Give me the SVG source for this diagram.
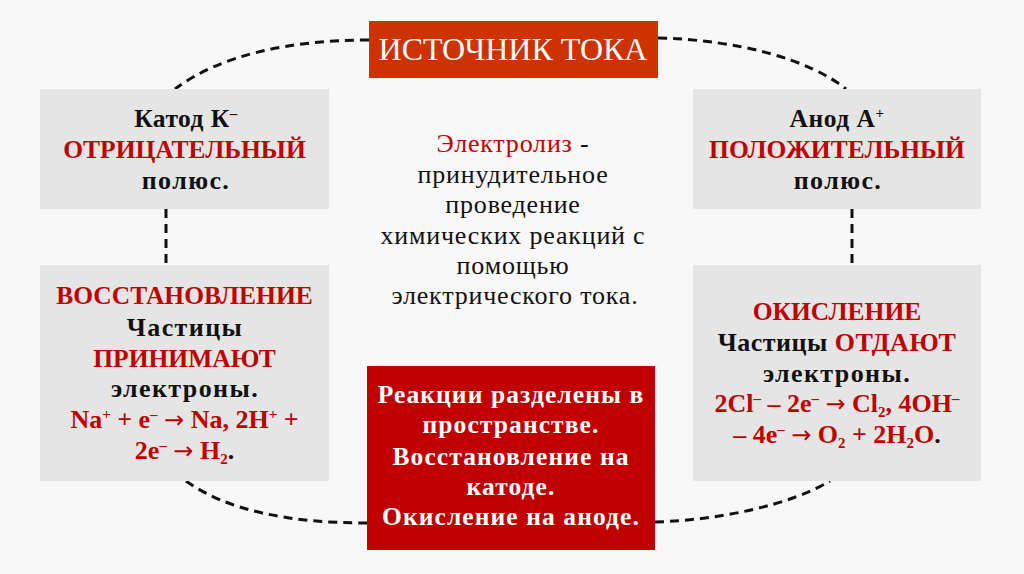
<svg xmlns="http://www.w3.org/2000/svg" width="1024" height="574" viewBox="0 0 1024 574">
  <style>
    .t { font-family: "Liberation Serif", "Times New Roman", serif; text-anchor: middle; }
    .b { font-weight: bold; font-size: 25.5px; }
    .lc { font-size: 26px; letter-spacing: 1.4px; }
    .f { font-size: 26px; }
    .r { fill: #c00000; }
    .k { fill: #111111; }
    .w { fill: #ffffff; }
    .reg { font-size: 26px; letter-spacing: 0.8px; }
    .gray { fill: #e5e5e5; }
    .dash { fill: none; stroke: #111111; stroke-width: 3; stroke-dasharray: 9 6; }
    .sup { font-size: 15px; }
    .arr { font-family: "DejaVu Sans", sans-serif; font-weight: normal; font-size: 24px; }
  </style>
  <rect x="0" y="0" width="1024" height="574" fill="#f8f8f8"/>

  <g id="connectors">
    <path class="dash" d="M369,40 C290,40 220,55 175,89"/>
    <path class="dash" d="M658,38 C740,40 810,60 846,89"/>
    <path class="dash" d="M166,209 L166,265"/>
    <path class="dash" d="M852,209 L852,265"/>
    <path class="dash" d="M186,481 C228,511 290,523 367,523"/>
    <path class="dash" d="M655,522 C720,520 790,505 830,481"/>
  </g>

  <g id="source">
    <rect x="369" y="21" width="289" height="57" fill="#cc3300"/>
    <text class="t w" x="513" y="60" font-size="32">ИСТОЧНИК ТОКА</text>
  </g>

  <g id="cathode">
    <rect class="gray" x="40" y="89" width="289" height="120"/>
    <text class="t b k" x="186" y="127" letter-spacing="0.5">Катод К<tspan class="sup" dy="-9">–</tspan></text>
    <text class="t b r" x="184.5" y="158">ОТРИЦАТЕЛЬНЫЙ</text>
    <text class="t b lc k" x="186" y="189">полюс.</text>
  </g>

  <g id="anode">
    <rect class="gray" x="693" y="89" width="288" height="120"/>
    <text class="t b k" x="837" y="127" letter-spacing="0.5">Анод А<tspan class="sup" dy="-9">+</tspan></text>
    <text class="t b r" x="837" y="158" font-size="26">ПОЛОЖИТЕЛЬНЫЙ</text>
    <text class="t b lc k" x="838" y="189">полюс.</text>
  </g>

  <g id="definition">
    <text class="t reg" x="513" y="152"><tspan class="r">Электролиз</tspan><tspan class="k"> -</tspan></text>
    <text class="t reg k" x="513" y="183">принудительное</text>
    <text class="t reg k" x="513" y="213">проведение</text>
    <text class="t reg k" x="513" y="244">химических реакций с</text>
    <text class="t reg k" x="513" y="274">помощью</text>
    <text class="t reg k" x="515" y="304">электрического тока.</text>
  </g>

  <g id="reduction">
    <rect class="gray" x="40" y="265" width="289" height="216"/>
    <text class="t b r" x="184.5" y="304">ВОССТАНОВЛЕНИЕ</text>
    <text class="t b lc k" x="185" y="336">Частицы</text>
    <text class="t b r" x="184.5" y="367">ПРИНИМАЮТ</text>
    <text class="t b lc k" x="185" y="397">электроны.</text>
    <text class="t b f r" x="184.5" y="428">Na<tspan class="sup" dy="-9">+</tspan><tspan dy="9"> + e</tspan><tspan class="sup" dy="-9">–</tspan><tspan dy="9"> </tspan><tspan class="arr">→</tspan><tspan> Na, 2H</tspan><tspan class="sup" dy="-9">+</tspan><tspan dy="9"> +</tspan></text>
    <text class="t b f r" x="184.5" y="459">2e<tspan class="sup" dy="-9">–</tspan><tspan dy="9"> </tspan><tspan class="arr">→</tspan><tspan> H</tspan><tspan class="sup" dy="5">2</tspan><tspan dy="-5" class="k">.</tspan></text>
  </g>

  <g id="oxidation">
    <rect class="gray" x="693" y="265" width="288" height="216"/>
    <text class="t b r" x="837" y="320">ОКИСЛЕНИЕ</text>
    <text class="t b f" x="837" y="351" letter-spacing="0.5"><tspan class="k">Частицы </tspan><tspan class="r">ОТДАЮТ</tspan></text>
    <text class="t b lc k" x="837" y="382">электроны.</text>
    <text class="t b f r" x="837" y="412">2Cl<tspan class="sup" dy="-9">–</tspan><tspan dy="9"> – 2e</tspan><tspan class="sup" dy="-9">–</tspan><tspan dy="9"> </tspan><tspan class="arr">→</tspan><tspan> Cl</tspan><tspan class="sup" dy="5">2</tspan><tspan dy="-5">, 4OH</tspan><tspan class="sup" dy="-9">–</tspan></text>
    <text class="t b f r" x="837" y="443">– 4e<tspan class="sup" dy="-9">–</tspan><tspan dy="9"> </tspan><tspan class="arr">→</tspan><tspan> O</tspan><tspan class="sup" dy="5">2</tspan><tspan dy="-5"> + 2H</tspan><tspan class="sup" dy="5">2</tspan><tspan dy="-5">O</tspan><tspan class="k">.</tspan></text>
  </g>

  <g id="separation">
    <rect x="367" y="366" width="288" height="184" fill="#c00000"/>
    <text class="t b w" x="511" y="403" font-size="26" letter-spacing="1.1">Реакции разделены в</text>
    <text class="t b w" x="511" y="433" font-size="26" letter-spacing="1.1">пространстве.</text>
    <text class="t b w" x="511" y="465" font-size="26" letter-spacing="1.1">Восстановление на</text>
    <text class="t b w" x="511" y="495" font-size="26" letter-spacing="1.1">катоде.</text>
    <text class="t b w" x="511" y="525" font-size="26" letter-spacing="1.1">Окисление на аноде.</text>
  </g>
</svg>
